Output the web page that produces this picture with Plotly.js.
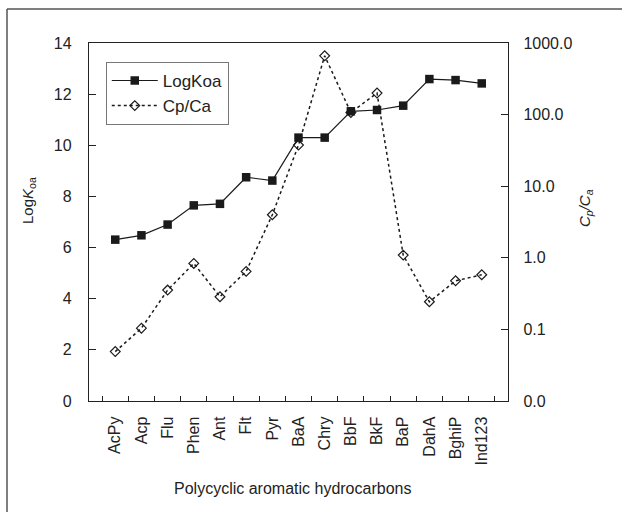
<!DOCTYPE html>
<html>
<head>
<meta charset="utf-8">
<script src="https://cdn.plot.ly/plotly-3.0.1.min.js"></script>
<style>html,body{margin:0;padding:0;background:#fff;}#chart{width:622px;height:512px;}</style>
</head>
<body>
<div id="chart"></div>
<script>
const categories = ["AcPy","Acp","Flu","Phen","Ant","Flt","Pyr","BaA","Chry","BbF","BkF","BaP","DahA","BghiP","Ind123"];
const logKoa = [6.31, 6.48, 6.90, 7.65, 7.71, 8.75, 8.62, 10.30, 10.30, 11.33, 11.38, 11.55, 12.59, 12.55, 12.42];
const cpCa = [0.049, 0.104, 0.354, 0.835, 0.286, 0.646, 3.99, 37.5, 662, 107, 200, 1.09, 0.243, 0.477, 0.579];
const leftTicks = [0, 2, 4, 6, 8, 10, 12, 14];
const rightTickVals = [0.01, 0.1, 1, 10, 100, 1000];
const rightTickText = ["0.0", "0.1", "1.0", "10.0", "100.0", "1000.0"];
const xTitle = "Polycyclic aromatic hydrocarbons";
const yTitle = "Log<i>K</i><sub>oa</sub>";
const y2Title = "<i>C<sub>p</sub>/C<sub>a</sub></i>";

const font = "Liberation Sans, Arial, sans-serif";
const traces = [
  {
    x: categories, y: logKoa, name: "LogKoa", type: "scatter", mode: "lines+markers",
    line: {color: "#1a1a1a", width: 1.2},
    marker: {symbol: "square", size: 8.5, color: "#1a1a1a"}
  },
  {
    x: categories, y: cpCa, name: "Cp/Ca", type: "scatter", mode: "lines+markers", yaxis: "y2",
    line: {color: "#1a1a1a", width: 1.5, dash: "dot"},
    marker: {symbol: "diamond-open", size: 7.5, color: "#1a1a1a", line: {width: 1.2}}
  }
];
const L = 89, R = 114, T = 43, B = 111;
const pw = 622 - L - R, ph = 512 - T - B;
const fx = (7 - L) / pw, fy = 1 + (T - 9) / ph;
const px = v => (v - L) / pw;            // pixel x -> paper x
const py = v => 1 - (v - T) / ph;        // pixel y -> paper y
const layout = {
  width: 622, height: 512,
  margin: {l: L, r: R, t: T, b: B, pad: 0},
  paper_bgcolor: "#fff", plot_bgcolor: "#fff",
  font: {family: font, color: "#222", size: 16},
  showlegend: true,
  legend: {x: 0.04, y: 0.947, xanchor: "left", yanchor: "top", bordercolor: "#777", borderwidth: 1,
           bgcolor: "#fff", font: {size: 17, color: "#222"}, tracegroupgap: 0, itemwidth: 46},
  xaxis: {
    type: "category", tickson: "boundaries", ticks: "inside", ticklen: 5, tickcolor: "#222",
    showline: true, linecolor: "#222", linewidth: 1.2, mirror: true, showgrid: false,
    tickangle: -90, tickfont: {size: 16}, ticklabelstandoff: 8, automargin: false
  },
  yaxis: {
    range: [0, 14], tickvals: leftTicks, ticks: "inside", ticklen: 7, tickcolor: "#222",
    showline: true, linecolor: "#222", linewidth: 1.2, mirror: true, showgrid: false, zeroline: false,
    tickfont: {size: 16}, ticklabelstandoff: 13, automargin: false
  },
  yaxis2: {
    type: "log", range: [-2, 3], overlaying: "y", side: "right",
    tickvals: rightTickVals, ticktext: rightTickText, ticks: "inside", ticklen: 7, tickcolor: "#222",
    showline: true, linecolor: "#222", linewidth: 1.2, showgrid: false, zeroline: false,
    tickfont: {size: 16}, ticklabelstandoff: 11, automargin: false
  },
  annotations: [
    {text: xTitle, xref: "paper", yref: "paper", x: px(292), y: py(488), xanchor: "center", yanchor: "middle",
     showarrow: false, font: {size: 16, color: "#222"}},
    {text: yTitle, xref: "paper", yref: "paper", x: px(29), y: py(201), xanchor: "center", yanchor: "middle",
     textangle: -90, showarrow: false, font: {size: 15, color: "#222"}},
    {text: y2Title, xref: "paper", yref: "paper", x: px(585), y: py(208), xanchor: "center", yanchor: "middle",
     textangle: -90, showarrow: false, font: {size: 15, color: "#222"}}
  ],
  shapes: [
    {type: "line", xref: "paper", yref: "paper", x0: fx, x1: fx, y0: fy, y1: -0.5, line: {color: "#555", width: 1.5}},
    {type: "line", xref: "paper", yref: "paper", x0: fx, x1: 1.5, y0: fy, y1: fy, line: {color: "#555", width: 1.5}}
  ]
};
Plotly.newPlot("chart", traces, layout, {displayModeBar: false, staticPlot: true});
</script>
</body>
</html>
